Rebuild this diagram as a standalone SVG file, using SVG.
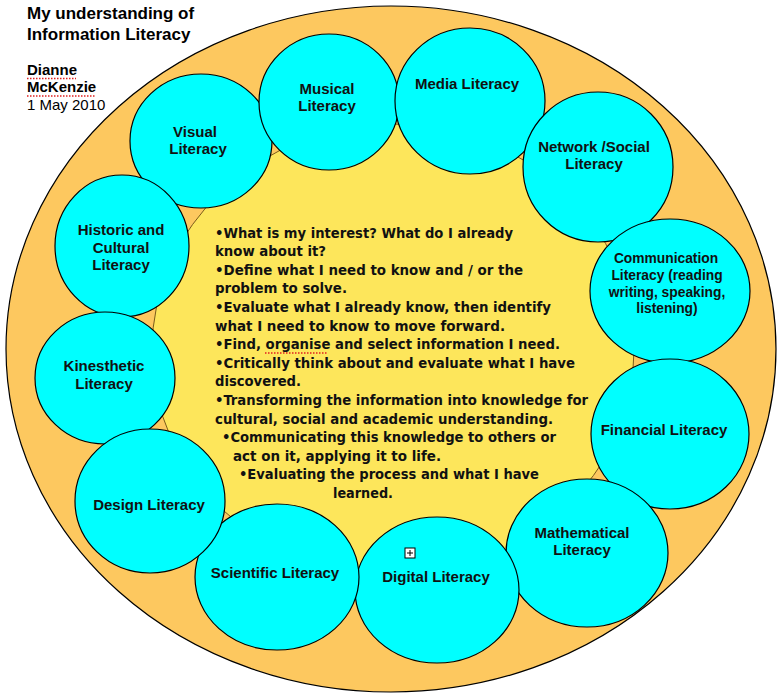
<svg xmlns="http://www.w3.org/2000/svg" width="777" height="697" viewBox="0 0 777 697">
<style>
.bg{fill:#FDC85F;stroke:#000;stroke-width:1.2}
.inner{fill:#FDE65B;stroke:#7a5a1a;stroke-width:1}
.c{fill:#00FFFF;stroke:#000;stroke-width:1.2}
.lbl{font-family:"Liberation Sans",Arial,sans-serif;font-weight:bold;font-size:15px;fill:#111;text-anchor:middle}
.sm{font-size:13.8px}
.title{font-family:"Liberation Sans",Arial,sans-serif;font-weight:bold;font-size:17px;fill:#000}
.auth{font-family:"Liberation Sans",Arial,sans-serif;font-size:15px;fill:#000}
.body{font-family:"DejaVu Sans Condensed","DejaVu Sans",sans-serif;font-weight:bold;font-size:14.8px;fill:#111}
.sq{stroke:#e02020;stroke-width:1.3;stroke-dasharray:1.5 1.5;fill:none}
</style>
<rect width="777" height="697" fill="#fff"/>
<g id="background">
<ellipse class="bg" cx="391" cy="349" rx="385" ry="343"/>
<ellipse class="inner" cx="393" cy="350" rx="241" ry="226"/>
</g>
<g id="title">
<text class="title" x="27" y="19">My understanding of</text>
<text class="title" x="27" y="40">Information Literacy</text>
<text class="auth" font-weight="bold" x="27" y="75">Dianne</text>
<text class="auth" font-weight="bold" x="27" y="92">McKenzie</text>
<text class="auth" x="27" y="110">1 May 2010</text>
<line class="sq" x1="27" y1="78.5" x2="76" y2="78.5"/>
<line class="sq" x1="27" y1="96" x2="96" y2="96"/>
</g>
<g id="connectors"></g>
<g id="visual"><ellipse class="c" cx="201" cy="141" rx="71" ry="67"/><text class="lbl" x="195" y="137">Visual</text><text class="lbl" x="198" y="154">Literacy</text></g>
<g id="historic"><ellipse class="c" cx="122" cy="246" rx="67" ry="71"/><text class="lbl" x="121" y="235">Historic and</text><text class="lbl" x="121" y="253">Cultural</text><text class="lbl" x="121" y="270">Literacy</text></g>
<g id="kinesthetic"><ellipse class="c" cx="105" cy="378" rx="70" ry="66"/><text class="lbl" x="104" y="371">Kinesthetic</text><text class="lbl" x="104" y="389">Literacy</text></g>
<g id="musical"><ellipse class="c" cx="329" cy="102" rx="70" ry="68"/><text class="lbl" x="327" y="94">Musical</text><text class="lbl" x="327" y="111">Literacy</text></g>
<g id="media"><ellipse class="c" cx="470" cy="101" rx="75" ry="73"/><text class="lbl" x="467" y="89">Media Literacy</text></g>
<g id="network"><ellipse class="c" cx="598" cy="167" rx="75" ry="75"/><text class="lbl" x="594" y="152">Network /Social</text><text class="lbl" x="594" y="169">Literacy</text></g>
<g id="communication"><ellipse class="c" cx="670" cy="291" rx="80" ry="72"/><text class="lbl sm" x="666" y="263">Communication</text><text class="lbl sm" x="667" y="280">Literacy (reading</text><text class="lbl sm" x="667" y="297">writing, speaking,</text><text class="lbl sm" x="667" y="313">listening)</text></g>
<g id="financial"><ellipse class="c" cx="670" cy="434" rx="79" ry="75"/><text class="lbl" x="664" y="435">Financial Literacy</text></g>
<g id="mathematical"><ellipse class="c" cx="587" cy="553" rx="81" ry="74"/><text class="lbl" x="582" y="538">Mathematical</text><text class="lbl" x="582" y="555">Literacy</text></g>
<g id="digital"><ellipse class="c" cx="437" cy="590" rx="82" ry="73"/><text class="lbl" x="436" y="582">Digital Literacy</text>
<rect x="405" y="548" width="10" height="10" fill="#fff" stroke="#000" stroke-width="1"/><path d="M410 550v6M407 553h6" stroke="#000" stroke-width="1"/></g>
<g id="scientific"><ellipse class="c" cx="277" cy="577" rx="82" ry="73"/><text class="lbl" x="275" y="578">Scientific Literacy</text></g>
<g id="design"><ellipse class="c" cx="150" cy="501" rx="75" ry="72"/><text class="lbl" x="149" y="510">Design Literacy</text></g>
<g id="process">
<text class="body" x="215" y="237.5" textLength="298" lengthAdjust="spacingAndGlyphs">•What is my interest? What do I already</text>
<text class="body" x="215" y="256.1" textLength="111" lengthAdjust="spacingAndGlyphs">know about it?</text>
<text class="body" x="215" y="274.7" textLength="308" lengthAdjust="spacingAndGlyphs">•Define what I need to know and / or the</text>
<text class="body" x="215" y="293.3" textLength="132" lengthAdjust="spacingAndGlyphs">problem to solve.</text>
<text class="body" x="215" y="311.9" textLength="336" lengthAdjust="spacingAndGlyphs">•Evaluate what I already know, then identify</text>
<text class="body" x="215" y="330.5" textLength="290" lengthAdjust="spacingAndGlyphs">what I need to know to move forward.</text>
<text class="body" x="215" y="349.1" textLength="345" lengthAdjust="spacingAndGlyphs">•Find, organise and select information I need.</text>
<line class="sq" x1="265" y1="353" x2="328" y2="353"/>
<text class="body" x="215" y="367.7" textLength="360" lengthAdjust="spacingAndGlyphs">•Critically think about and evaluate what I have</text>
<text class="body" x="215" y="386.3" textLength="86" lengthAdjust="spacingAndGlyphs">discovered.</text>
<text class="body" x="215" y="404.9" textLength="373" lengthAdjust="spacingAndGlyphs">•Transforming the information into knowledge for</text>
<text class="body" x="215" y="423.5" textLength="338" lengthAdjust="spacingAndGlyphs">cultural, social and academic understanding.</text>
<text class="body" x="222" y="442.1" textLength="334" lengthAdjust="spacingAndGlyphs">•Communicating this knowledge to others or</text>
<text class="body" x="233" y="460.7" textLength="208" lengthAdjust="spacingAndGlyphs">act on it, applying it to life.</text>
<text class="body" x="239" y="479.3" textLength="300" lengthAdjust="spacingAndGlyphs">•Evaluating the process and what I have</text>
<text class="body" x="333" y="497.9" textLength="60" lengthAdjust="spacingAndGlyphs">learned.</text>
</g>
</svg>
